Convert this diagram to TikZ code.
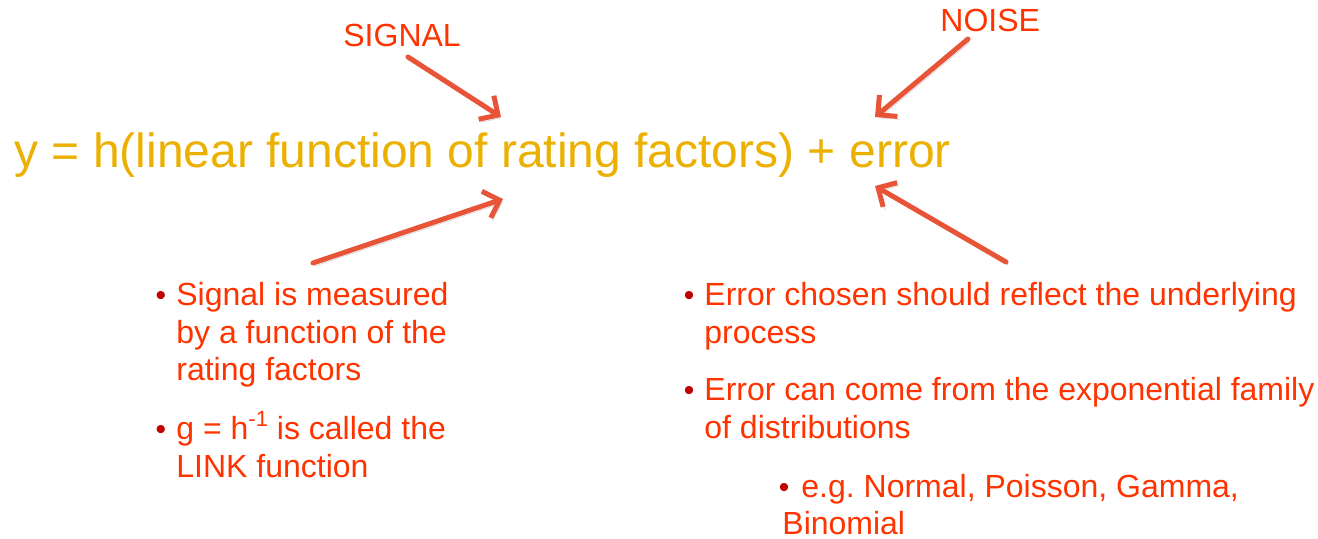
\documentclass[tikz,border=0pt]{standalone}
\usepackage{fontspec}
\setmainfont{Liberation Sans}
\usetikzlibrary{arrows.meta}
\definecolor{eqgold}{RGB}{235,176,0}
\definecolor{txtred}{RGB}{255,51,0}
\definecolor{arrred}{RGB}{232,84,56}
\definecolor{dotred}{RGB}{192,0,0}
\frenchspacing

\begin{document}
\begin{tikzpicture}[x=0.5pt, y=-0.5pt,
    eqn/.style={anchor=base west, inner sep=0pt, text=eqgold, font=\fontsize{24}{28}\selectfont},
    tag/.style={anchor=base west, inner sep=0pt, text=txtred, font=\fontsize{16}{19}\selectfont},
    txt/.style={anchor=base west, inner sep=0pt, text=txtred, align=left},
    dot/.style={anchor=base, inner sep=0pt, text=dotred, font=\fontsize{15}{18}\selectfont},
    pointer/.style={draw=arrred, line width=2.5pt, line cap=round,
        -{Straight Barb[length=7pt, width=14pt, line width=2.5pt]},
        preaction={draw=black, opacity=0.15, transform canvas={shift={(1pt,-1.5pt)}}}}]
    \useasboundingbox (0,0) rectangle (1318,539);

    % the model
    \node[eqn] (model) at (14,168) {y = h(linear function of rating factors) + error};

    % labels on top
    \node[tag] (signal) at (343,47) {SIGNAL};
    \node[tag] (noise) at (940,32) {NOISE};

    % left notes (multi-line nodes sit on their last baseline)
    \node[dot] (b1) at (161,306) {•};
    \node[txt, font={\fontsize{16}{18.75}\selectfont}] (sig) at (176,381)
        {Signal is measured\\by a function of the\\rating factors};
    \node[dot] (b2) at (161,440) {•};
    \node[txt, font={\fontsize{16}{19}\selectfont}] (link) at (176,478)
        {g = h\raisebox{0.42em}{\fontsize{11}{12}\selectfont -1} is called the\\LINK function};

    % right notes
    \node[dot] (b3) at (689,306) {•};
    \node[txt, font={\fontsize{16}{19}\selectfont}] (proc) at (704,344)
        {Error chosen should reflect the underlying\\process};
    \node[dot] (b4) at (689,401) {•};
    \node[txt, font={\fontsize{16}{19}\selectfont}] (fam) at (704,439)
        {Error can come from the exponential family\\of distributions};
    \node[dot] (b5) at (784,498) {•};
    \node[txt, font={\fontsize{16}{19}\selectfont}] (dist) at (801,498)
        {e.g. Normal, Poisson, Gamma,};
    \node[txt, font={\fontsize{16}{19}\selectfont}] (binom) at (782,535) {Binomial};

    % arrow ends
    \coordinate (s0) at (408,57);
    \coordinate (s1) at (501,117);
    \coordinate (n0) at (968,39);
    \coordinate (n1) at (875,117);
    \coordinate (l0) at (313,263);
    \coordinate (l1) at (503,199);
    \coordinate (r0) at (1006,262);
    \coordinate (r1) at (875,186);

    \draw[pointer] (s0) -- (s1);
    \draw[pointer] (n0) -- (n1);
    \draw[pointer] (l0) -- (l1);
    \draw[pointer] (r0) -- (r1);
\end{tikzpicture}
\end{document}
